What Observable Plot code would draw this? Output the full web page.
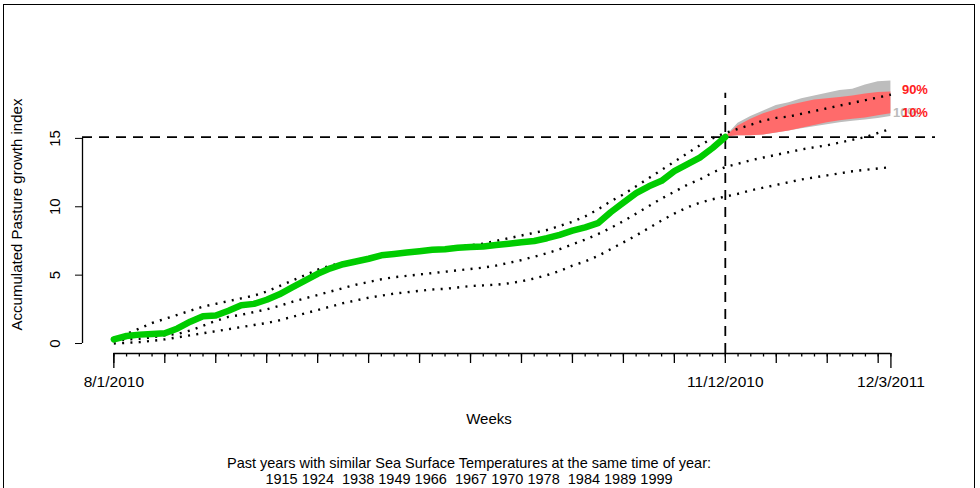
<!DOCTYPE html>
<html><head><meta charset="utf-8">
<script src="https://cdn.jsdelivr.net/npm/d3@7"></script>
<script src="https://cdn.jsdelivr.net/npm/@observablehq/plot@0.6"></script>
<style>
html,body{margin:0;padding:0;background:#fff;}
#wrap{position:relative;width:980px;height:488px;overflow:hidden;}
#border{position:absolute;left:3px;top:4px;width:972px;height:530px;border:1.5px solid #000;box-sizing:border-box;pointer-events:none;}
#chart{position:absolute;left:0;top:0;}
</style></head><body>
<div id="wrap"><div id="chart"></div><div id="border"></div></div>
<script>
// ---- data (weeks since 8/1/2010) ----
const weekIdx = d3.range(62);
const observed = [0.3,0.55,0.65,0.7,0.75,1.1,1.6,2.0,2.05,2.4,2.8,2.9,3.2,3.6,4.1,4.6,5.1,5.5,5.8,6.0,6.2,6.45,6.55,6.65,6.75,6.85,6.9,7.0,7.05,7.1,7.2,7.3,7.4,7.5,7.7,7.95,8.25,8.5,8.8,9.6,10.3,11.0,11.5,11.9,12.6,13.1,13.6,14.3,15.1];
const upperPast = [0.3,0.7,1.1,1.5,1.8,2.1,2.4,2.7,2.9,3.1,3.3,3.5,3.8,4.2,4.6,5.0,5.4,5.7,5.9,6.1,6.3,6.5,6.6,6.7,6.8,6.9,7.0,7.1,7.2,7.3,7.5,7.7,7.9,8.1,8.3,8.6,8.9,9.3,9.8,10.4,10.9,11.5,12.1,12.7,13.3,13.9,14.5,15.0,15.4,15.7,16.0,16.3,16.5,16.6,16.8,17.0,17.2,17.4,17.6,17.8,18.0,18.2];
const middlePast = [0.2,0.3,0.35,0.45,0.6,0.7,0.95,1.3,1.65,1.95,2.1,2.3,2.5,2.75,3.05,3.3,3.55,3.8,4.05,4.3,4.5,4.7,4.85,4.95,5.05,5.15,5.25,5.35,5.45,5.55,5.7,5.9,6.1,6.35,6.6,6.9,7.25,7.6,8.0,8.45,8.95,9.5,10.05,10.6,11.1,11.6,12.0,12.5,12.9,13.15,13.4,13.6,13.8,14.0,14.2,14.35,14.5,14.7,14.9,15.1,15.4,15.7];
const lowerPast = [0.0,0.05,0.1,0.2,0.3,0.45,0.6,0.75,0.9,1.05,1.2,1.35,1.5,1.7,1.95,2.2,2.45,2.7,2.95,3.15,3.35,3.5,3.65,3.75,3.85,3.95,4.0,4.1,4.2,4.25,4.3,4.4,4.55,4.75,5.0,5.3,5.7,6.0,6.4,6.9,7.4,7.9,8.45,9.0,9.5,9.95,10.3,10.55,10.75,10.95,11.2,11.4,11.6,11.8,12.0,12.15,12.3,12.45,12.6,12.7,12.8,12.9];
const forecastWeeks = [48,49,50,51,52,53,54,55,56,57,58,59,60,61];
const redHi  = [15.1,15.9,16.4,16.8,17.1,17.4,17.6,17.8,17.9,18.0,18.1,18.25,18.35,18.4];
const redLo  = [15.1,15.2,15.2,15.25,15.4,15.55,15.75,15.95,16.15,16.3,16.4,16.5,16.65,16.8];
const grayHi = [15.1,16.1,16.6,17.0,17.4,17.6,17.9,18.1,18.3,18.5,18.6,18.9,19.15,19.2];
const grayLo = [15.1,15.2,15.2,15.25,15.4,15.55,15.7,15.85,16.0,16.15,16.25,16.35,16.45,16.6];
const currentWeek = 48, currentLevel = 15.1, markerTop = 18.3;
const yTicks = [0,5,10,15];
const majorWeeks = [0,4,8,12,16,20,24,28,32,36,40,44,48,52,56,60];
const endWeeks = [0,61];
const labelWeeks = [0,48,61];
const labelText = ["8/1/2010","11/12/2010","12/3/2011"];
const bandLabels = ["90%","10%"];
const yTitle = "Accumulated Pasture growth index";
const xTitle = "Weeks";
const captionLines = ["Past years with similar Sea Surface Temperatures at the same time of year:","1915 1924  1938 1949 1966  1967 1970 1978  1984 1989 1999"];

// ---- tables ----
const obs = observed.map((v,i)=>({week:weekIdx[i], value:v}));
const past = weekIdx.map(i=>({week:i, upper:upperPast[i], middle:middlePast[i], lower:lowerPast[i]}));
const fc = forecastWeeks.map((w,i)=>({week:w, rHi:redHi[i], rLo:redLo[i], gHi:grayHi[i], gLo:grayLo[i]}));
const last = fc[fc.length-1];
const hiLab = [{t:bandLabels[0], week:last.week, y:last.rHi}];
const loLab = [{t:bandLabels[1], week:last.week, y:last.rLo}];

const xDom = [-2.46, 64.5], yDom = [-0.73, 19.6];
const font = "'Liberation Sans', Arial, Helvetica, sans-serif";
const dotted = {stroke:"#000", strokeWidth:2.4, strokeDasharray:"2,6.3", strokeLinecap:"butt"};
const dashed = {stroke:"#000", strokeWidth:1.8, strokeDasharray:"10,7"};
const labOpts = {x:"week", y:"y", text:"t", textAnchor:"start", fontSize:13, fontWeight:"bold"};

const chart = Plot.plot({
  width: 980, height: 488,
  marginLeft: 82, marginRight: 45, marginTop: 75, marginBottom: 135,
  x: {domain: xDom}, y: {domain: yDom},
  style: {fontFamily: font, fontSize: "15px", background: "transparent", color:"#000", whiteSpace:"pre"},
  marks: [
    Plot.areaY(fc, {x:"week", y1:"gLo", y2:"gHi", fill:"#bdbdbd"}),
    Plot.areaY(fc, {x:"week", y1:"rLo", y2:"rHi", fill:"#ff6b6b"}),
    Plot.ruleY([currentLevel], dashed),
    Plot.ruleX([currentWeek], {y1: yDom[0], y2: markerTop, ...dashed}),
    Plot.line(past, {x:"week", y:"upper", ...dotted}),
    Plot.line(past, {x:"week", y:"middle", ...dotted}),
    Plot.line(past, {x:"week", y:"lower", ...dotted}),
    Plot.line(obs, {x:"week", y:"value", stroke:"#00cc00", strokeWidth:6.5, strokeLinejoin:"round", strokeLinecap:"round"}),
    Plot.text(loLab, {...labOpts, fill:"#bbbbbb", dx:2, dy:-1}),
    Plot.text(hiLab, {...labOpts, fill:"#ff2020", dx:11, dy:-2}),
    Plot.text(loLab, {...labOpts, fill:"#ff2020", dx:11, dy:-1}),
    // y axis
    Plot.ruleX([xDom[0]], {y1: yTicks[0], y2: yTicks[yTicks.length-1], stroke:"#000", strokeWidth:1.3}),
    Plot.axisY({ticks: yTicks, tickSize: 7, tickRotate: -90, tickPadding: 16, label: null, tickFormat: d => String(d), fontSize: 15}),
    // x axis
    Plot.ruleY([yDom[0]], {x1: endWeeks[0], x2: endWeeks[1], stroke:"#000", strokeWidth:1.3}),
    Plot.axisX({ticks: weekIdx, tickSize: 3.5, tickFormat: () => "", label: null, strokeWidth: 1.3}),
    Plot.axisX({ticks: majorWeeks, tickSize: 10, tickFormat: () => "", label: null, strokeWidth: 1.3}),
    Plot.axisX({ticks: endWeeks, tickSize: 15, tickFormat: () => "", label: null, strokeWidth: 1.3}),
    Plot.axisX({ticks: labelWeeks, tickSize: 0, tickPadding: 22, tickFormat: d => labelText[labelWeeks.indexOf(d)], label: null, fontSize: 15.5}),
    // titles
    Plot.text([xTitle], {frameAnchor:"bottom", dy: 70, dx: -20, fontSize: 15}),
    Plot.text([yTitle], {frameAnchor:"left", textAnchor:"middle", rotate: -90, dx: -65, fontSize: 15}),
    Plot.text([captionLines.join("\n")], {frameAnchor:"bottom", textAnchor:"middle", lineAnchor:"top", dy: 103, dx: -40, lineHeight: 1.1, fontSize: 14.5})
  ]
});
document.getElementById("chart").appendChild(chart);
</script>
</body></html>
